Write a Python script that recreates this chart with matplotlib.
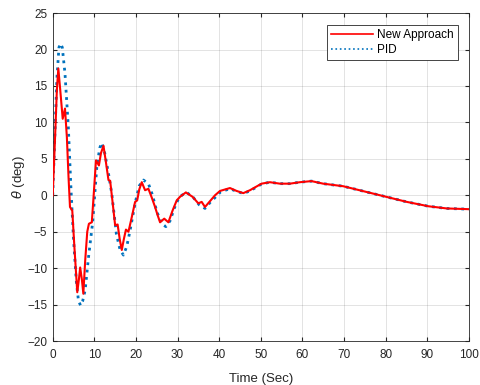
import numpy as np
import matplotlib.pyplot as plt

plt.rcParams['font.family'] = ['Liberation Sans', 'DejaVu Sans']

# New Approach (red)
t_new = [0, 0.5, 1.0, 1.35, 1.8, 2.4, 2.95, 3.4, 3.8, 4.15, 4.7, 5.2, 5.9, 6.3, 6.6, 7.0,
         7.36, 7.8, 8.3, 8.7, 9.4, 9.9, 10.4, 11.1, 11.6, 12.2, 12.8, 13.4, 13.8, 14.4, 15.0,
         15.6, 16.1, 16.6, 17.1, 17.6, 18.2, 19.0, 19.8, 20.3, 20.8, 21.4, 22.2, 23.0, 23.8,
         24.6, 25.2, 25.8, 26.8, 27.8, 28.8, 29.8, 30.6, 32.0, 33.6, 35.0, 35.8, 36.6, 37.8,
         39.0, 40.2, 42.6, 44.2, 45.8, 47.4, 50.2, 52.2, 54.6, 57.0, 59.4, 62.2, 65.0, 69.8,
         72.3, 78.7, 85.1, 90.3, 94.7, 100]
theta_new = [0, 7, 14.5, 17.4, 14.5, 10.5, 11.9, 8, 2.5, -1.6, -2.1, -7, -13.3, -11.5, -9.9, -11.5,
             -13.5, -9, -5, -3.9, -3.7, 0.5, 4.8, 4.1, 5.8, 6.8, 4.5, 2.1, 2.0, -1, -4.1,
             -4.0, -6, -7.5, -6, -4.7, -5.0, -3, -0.9, -0.7, 0.8, 1.8, 0.7, 0.9, -0.3,
             -1.6, -2.7, -3.7, -3.2, -3.7, -2.1, -0.7, -0.2, 0.4, -0.2, -1.1, -0.9, -1.6, -0.8,
             0.0, 0.6, 1.0, 0.6, 0.3, 0.7, 1.6, 1.8, 1.6, 1.6, 1.8, 1.95, 1.6, 1.25,
             0.9, 0.0, -0.9, -1.5, -1.8, -1.9]

# PID (blue dotted)
t_pid = [0, 0.5, 1.0, 1.5, 1.9, 2.3, 2.95, 3.75, 4.4, 5.0, 5.7, 6.2, 6.7, 7.2, 7.8, 8.6, 9.6,
         10.6, 11.3, 11.8, 12.5, 13.4, 14.2, 15.3, 16.2, 17.0, 17.8, 18.6, 19.8, 20.8, 21.8,
         23.0, 24.0, 25.0, 26.2, 27.2, 28.2, 29.2, 30.2, 31.0, 32.2, 33.8, 35.2, 36.6, 37.8,
         39.2, 40.4, 42.6, 44.2, 45.8, 47.4, 50.2, 52.2, 54.6, 57.0, 59.4, 62.2, 65.0, 69.8,
         72.3, 78.7, 85.1, 90.3, 94.7, 100]
theta_pid = [0, 8, 16, 20.3, 20.8, 20.3, 16.7, 9.4, 0.7, -6, -12, -14.5, -15.1, -14.5, -13.0, -8.5, -3.7,
             3.9, 6.5, 7.2, 5.8, 3.0, 0.2, -5.3, -7.5, -8.2, -7, -4.8, -1.1, 1.3, 2.1,
             1.6, 0, -2.2, -3.9, -4.3, -3.5, -1.8, -0.5, 0.0, 0.4, -0.3, -1.3, -1.8, -1.0,
             -0.2, 0.5, 0.9, 0.55, 0.25, 0.6, 1.55, 1.8, 1.6, 1.6, 1.8, 1.95, 1.6, 1.25,
             0.9, 0.0, -0.9, -1.5, -1.8, -1.9]

dark = (0.15, 0.15, 0.15)

fig = plt.figure(figsize=(4.81, 3.85), dpi=100)
ax = fig.add_axes([0.1096, 0.114, 0.865, 0.852])

ax.plot(t_new, theta_new, color='red', lw=1.5, label='New Approach', zorder=3)
ax.plot(t_pid, theta_pid, color=(0, 0.447, 0.741), lw=2.0, ls=':', label='PID', zorder=2)

ax.set_xlim(0, 100)
ax.set_ylim(-20, 25)
ax.set_xticks(np.arange(0, 101, 10))
ax.set_yticks(np.arange(-20, 26, 5))
ax.grid(True, color=dark, alpha=0.15, lw=0.6)
ax.tick_params(direction='in', labelsize=8.5, colors=dark, length=3,
               top=True, right=True)
ax.tick_params(axis='x', pad=6)
ax.tick_params(axis='y', pad=4)
for s in ax.spines.values():
    s.set_color(dark)
    s.set_linewidth(0.6)

ax.set_xlabel('Time (Sec)', fontsize=9.5, color=dark, labelpad=8)
ax.set_ylabel(r'$\theta$ (deg)', fontsize=9.5, color=dark)
ax.yaxis.set_label_coords(-0.062, 0.5)

leg = ax.legend(loc='upper right', bbox_to_anchor=(0.973, 0.965), fontsize=8.5,
                fancybox=False, framealpha=1, edgecolor=dark,
                handlelength=3.6, borderpad=0.35, labelspacing=0.25, handletextpad=0.3,
                borderaxespad=0)
leg.get_frame().set_linewidth(0.6)
for line in leg.get_lines():
    line.set_linewidth(1.2)

fig.savefig('out.png', dpi=100)
